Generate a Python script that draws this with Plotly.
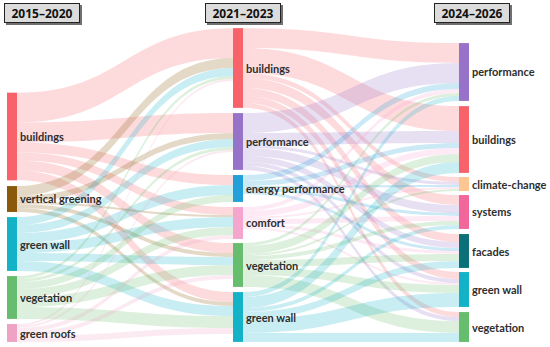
import plotly.graph_objects as go

# ---- data ----
left_labels = ["buildings", "vertical greening", "green wall", "vegetation", "green roofs"]
mid_labels = ["buildings", "performance", "energy performance", "comfort", "vegetation", "green wall"]
right_labels = ["performance", "buildings", "climate-change", "systems", "facades", "green wall", "vegetation"]
period_labels = ["2015–2020", "2021–2023", "2024–2026"]

# flows 2015–2020 -> 2021–2023 (rows: left nodes, cols: middle nodes)
flows_lm = [
    [30, 20, 10, 8, 10, 10],   # buildings
    [10, 6, 0, 2, 4, 4],       # vertical greening
    [8, 8, 10, 10, 8, 10],     # green wall
    [3, 3, 7, 8, 10, 12],      # vegetation
    [2, 2, 0, 4, 4, 6],        # green roofs
]
# flows 2021–2023 -> 2024–2026 (rows: middle nodes, cols: right nodes)
flows_mr = [
    [20, 25, 5, 10, 8, 7, 5],    # buildings
    [20, 12, 3, 8, 6, 4, 4],     # performance
    [6, 5, 2, 3, 3, 0, 0],       # energy performance
    [4, 6, 2, 5, 3, 2, 0],       # comfort
    [3, 8, 2, 4, 7, 8, 12],      # vegetation
    [5, 11, 0, 4, 7, 14, 9],     # green wall
]

# ---- styles / layout ----
left_colors = ["#F8626A", "#8A5A0A", "#13B2C6", "#67BD6E", "#EFA3C4"]
mid_colors = ["#F8626A", "#9673C8", "#239FD9", "#F5A6CF", "#67BD6E", "#13B2C6"]
right_colors = ["#9673C8", "#F8626A", "#FDC692", "#F2679B", "#0C7078", "#13B2C6", "#67BD6E"]

W, H = 550, 347
top_px, bot_px = 28, 342
dom_h = bot_px - top_px
col_x_px = [12, 238, 464]
left_cy = [136.5, 199, 244, 297.5, 333]
mid_cy = [68, 141.5, 188.5, 223, 265, 317]
right_cy = [72, 139.5, 184, 212, 251, 289.5, 327]


def rgba(hexc, a):
    h = hexc.lstrip("#")
    r, g, b = int(h[0:2], 16), int(h[2:4], 16), int(h[4:6], 16)
    return f"rgba({r},{g},{b},{a})"


labels = left_labels + mid_labels + right_labels
colors = left_colors + mid_colors + right_colors
nl, nm = len(left_labels), len(mid_labels)

src, tgt, val, lcol = [], [], [], []
for i, row in enumerate(flows_lm):
    for j, v in enumerate(row):
        if v > 0:
            src.append(i); tgt.append(nl + j); val.append(v); lcol.append(rgba(left_colors[i], 0.23))
for i, row in enumerate(flows_mr):
    for j, v in enumerate(row):
        if v > 0:
            src.append(nl + i); tgt.append(nl + nm + j); val.append(v); lcol.append(rgba(mid_colors[i], 0.23))

cols_cy = [left_cy, mid_cy, right_cy]
node_x, node_y = [], []
for c, cys in enumerate(cols_cy):
    for cy in cys:
        node_x.append(col_x_px[c] / W)
        node_y.append((cy - top_px) / dom_h)

fig = go.Figure(go.Sankey(
    arrangement="fixed",
    domain=dict(x=[0, 1], y=[(H - bot_px) / H, (H - top_px) / H]),
    node=dict(
        label=[""] * len(labels),
        color=colors,
        thickness=10,
        pad=5,
        line=dict(width=0),
        x=node_x,
        y=node_y,
    ),
    link=dict(source=src, target=tgt, value=val, color=lcol),
))

annotations = []
shapes = []
label_font = dict(family="Lato, Open Sans, sans-serif", size=11, color="#2E2E2E", weight="bold")
all_cols = [left_labels, mid_labels, right_labels]
for c, labs in enumerate(all_cols):
    for k, lab in enumerate(labs):
        annotations.append(dict(
            x=(col_x_px[c] + 6) / W, y=1 - cols_cy[c][k] / H,
            xref="paper", yref="paper", xanchor="left", yanchor="middle",
            text=lab, showarrow=False, font=label_font,
        ))

box_x = [4, 205, 434]
for k, txt in enumerate(period_labels):
    x0 = box_x[k]
    shapes.append(dict(type="rect", xref="paper", yref="paper", layer="above",
                       x0=(x0 + 2) / W, x1=(x0 + 78) / W, y0=1 - 25 / H, y1=1 - 5 / H,
                       fillcolor="#707070", line=dict(width=0)))
    annotations.append(dict(
        x=x0 / W, y=1 - 3 / H, xref="paper", yref="paper", xanchor="left", yanchor="top",
        text=f"<b>{txt}</b>", showarrow=False, width=72, height=16,
        bgcolor="#DCDCDC", bordercolor="#222222", borderwidth=1, borderpad=1,
        font=dict(family="Open Sans, sans-serif", size=12, color="#111111"),
    ))

fig.update_layout(
    width=W, height=H, margin=dict(l=0, r=0, t=0, b=0),
    paper_bgcolor="white", plot_bgcolor="white",
    annotations=annotations, shapes=shapes,
)

fig.write_html(
    "out.html",
    config={"displayModeBar": False},
    post_script="document.body.style.margin='0';document.body.style.overflow='hidden';",
)
